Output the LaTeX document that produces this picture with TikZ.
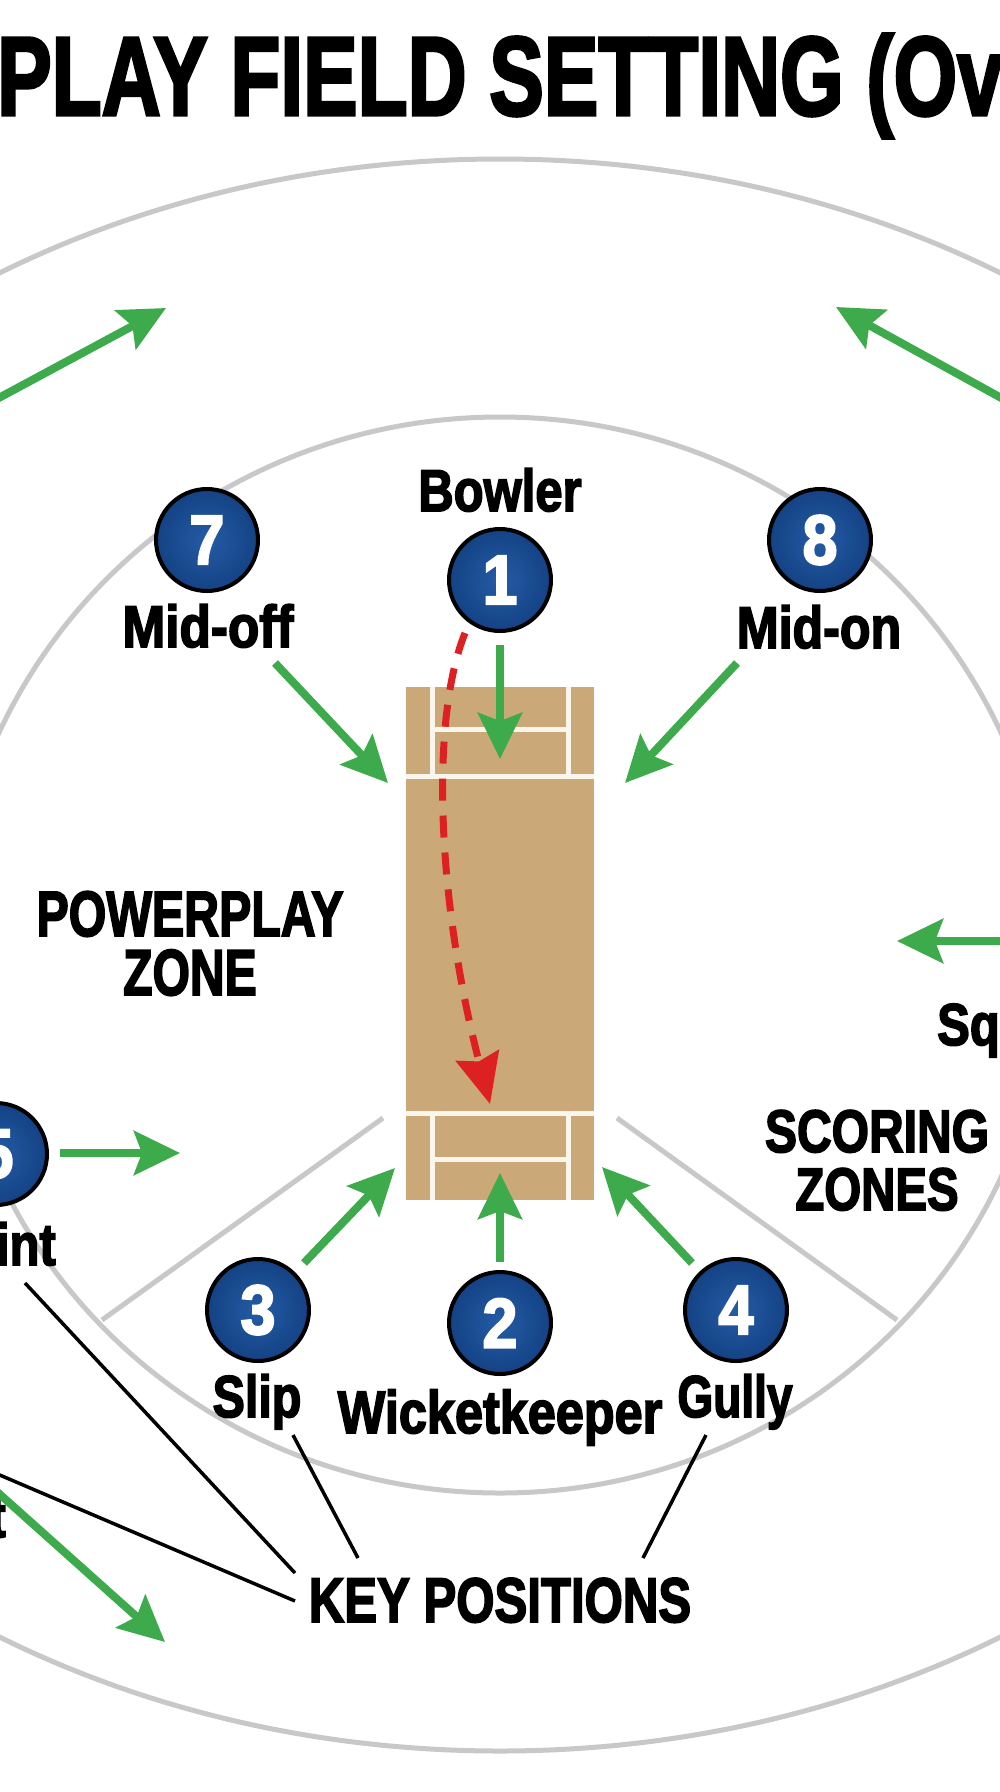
\documentclass[tikz,border=0pt]{standalone}
\usepackage{fontspec}
\setmainfont{Liberation Sans}
\newfontfamily\hv{Liberation Sans}[BoldFeatures={FakeBold=3}]
\usepackage{graphicx}
\usetikzlibrary{arrows.meta}
\definecolor{grn}{RGB}{61,170,75}
\definecolor{rdc}{RGB}{221,32,34}
\definecolor{gryc}{RGB}{200,200,202}
\definecolor{pitchc}{RGB}{202,168,120}
\definecolor{navyc}{RGB}{26,76,148}
\definecolor{navyin}{RGB}{36,92,166}
\definecolor{navyout}{RGB}{20,66,132}
\definecolor{crm}{RGB}{250,246,238}
\newcommand\lab[3]{\scalebox{#1}[1]{\fontsize{#2pt}{#2pt}\selectfont\hv\bfseries #3}}
\begin{document}
\begin{tikzpicture}[x=1pt,y=-1pt,
  numc/.style={circle, draw=black, line width=4pt, inner color=navyin, outer color=navyout, minimum size=102pt, inner sep=0pt, text=white},
  lbl/.style={anchor=base, inner sep=0pt, text=black},
  garrow/.style={draw=grn, line width=8pt, -{Stealth[length=46pt,width=44pt,inset=8pt]}},
  gryl/.style={draw=gryc, line width=5pt},
  leader/.style={draw=black, line width=3.5pt},
  wline/.style={draw=crm, line width=5pt}]
\useasboundingbox (0,0) rectangle (1000,1792);
\fill[white] (0,0) rectangle (1000,1792);
\clip (0,0) rectangle (1000,1792);
% title
\node[lbl, anchor=base west] (title) at (-3,115) {\lab{0.73}{112}{PLAY FIELD SETTING (Ov}};
% field
\draw[gryl] (500,955) ellipse [x radius=970, y radius=796];
\draw[gryl] (500,955) ellipse [x radius=550, y radius=538];
\coordinate (cl1) at (383,1118); \coordinate (cl2) at (102,1320);
\coordinate (cr1) at (617,1118); \coordinate (cr2) at (897,1320);
\draw[gryl] (cl1) -- (cl2);
\draw[gryl] (cr1) -- (cr2);
% pitch
\fill[pitchc] (406,687) rectangle (594,1200);
\draw[wline] (406,776) -- (594,776);
\draw[wline] (406,1113) -- (594,1113);
\draw[wline] (432,687) -- (432,776);
\draw[wline] (568,687) -- (568,776);
\draw[wline] (432,1113) -- (432,1200);
\draw[wline] (568,1113) -- (568,1200);
\draw[wline] (432,729) -- (568,729);
\draw[wline] (432,1159) -- (568,1159);
% position circles
\node[numc] (n1) at (500,580) {\lab{0.9}{70}{1}};
\node[numc] (n2) at (500,1323) {\lab{0.9}{70}{2}};
\node[numc] (n3) at (258,1310) {\lab{0.9}{70}{3}};
\node[numc] (n4) at (736,1310) {\lab{0.9}{70}{4}};
\node[numc] (n5) at (-4,1154) {\lab{0.9}{70}{5}};
\node[numc] (n7) at (207,540) {\lab{0.9}{70}{7}};
\node[numc] (n8) at (820,540) {\lab{0.9}{70}{8}};
% labels
\node[lbl] (bowler) at (500,511) {\lab{0.83}{59}{Bowler}};
\node[lbl] (midoff) at (208,647) {\lab{0.87}{59}{Mid-off}};
\node[lbl] (midon) at (819,648) {\lab{0.85}{59}{Mid-on}};
\node[lbl] (pp) at (190,936) {\lab{0.755}{64}{POWERPLAY}};
\node[lbl] (ppz) at (190,995) {\lab{0.74}{65}{ZONE}};
\node[lbl] (sc) at (877,1152) {\lab{0.80}{60}{SCORING}};
\node[lbl] (scz) at (877,1210) {\lab{0.79}{60}{ZONES}};
\node[lbl, anchor=base west] (sq) at (937,1045) {\lab{0.83}{59}{Sq}};
\node[lbl, anchor=base east] (pt) at (56,1265) {\lab{0.83}{59}{int}};
\node[lbl, anchor=base east] (tfrag) at (6,1537) {\lab{0.83}{59}{t}};
\node[lbl] (slip) at (257,1417) {\lab{0.82}{59}{Slip}};
\node[lbl] (wk) at (500,1433) {\lab{0.84}{60}{Wicketkeeper}};
\node[lbl] (gully) at (735,1417) {\lab{0.78}{59}{Gully}};
\node[lbl] (kp) at (500,1622) {\lab{0.78}{63}{KEY POSITIONS}};
% red delivery path
\coordinate (r0) at (465,633); \coordinate (r1) at (490,1104);
\draw[draw=rdc, line width=7pt, dash pattern=on 22pt off 15pt, -{Stealth[length=50pt,width=44pt,inset=6pt]}]
  (r0) .. controls (430,720) and (437,900) .. (r1);
% green arrows
\coordinate (a7s) at (275,663); \coordinate (a7e) at (388,783);
\coordinate (a1s) at (500,645); \coordinate (a1e) at (500,759);
\coordinate (a8s) at (737,663); \coordinate (a8e) at (625,783);
\coordinate (ars) at (1005,941); \coordinate (are) at (897,941);
\coordinate (a5s) at (60,1153); \coordinate (a5e) at (180,1153);
\coordinate (a3s) at (304,1263); \coordinate (a3e) at (395,1168);
\coordinate (a2s) at (500,1262); \coordinate (a2e) at (500,1173);
\coordinate (a4s) at (692,1263); \coordinate (a4e) at (602,1167);
\coordinate (atls) at (-5,400); \coordinate (atle) at (166,308);
\coordinate (atrs) at (1005,400); \coordinate (atre) at (836,307);
\coordinate (abls) at (-5,1490); \coordinate (able) at (165,1642);
\foreach \s/\e in {a7s/a7e,a1s/a1e,a8s/a8e,ars/are,a5s/a5e,a3s/a3e,a2s/a2e,a4s/a4e,atls/atle,atrs/atre,abls/able}
  \draw[garrow] (\s) -- (\e);
% leader lines to KEY POSITIONS
\coordinate (k1s) at (25,1283); \coordinate (k1e) at (295,1573);
\coordinate (k2s) at (-5,1473); \coordinate (k2e) at (295,1601);
\coordinate (k3s) at (293,1435); \coordinate (k3e) at (358,1558);
\coordinate (k4s) at (706,1435); \coordinate (k4e) at (643,1558);
\draw[leader] (k1s) -- (k1e);
\draw[leader] (k2s) -- (k2e);
\draw[leader] (k3s) -- (k3e);
\draw[leader] (k4s) -- (k4e);
\end{tikzpicture}
\end{document}
